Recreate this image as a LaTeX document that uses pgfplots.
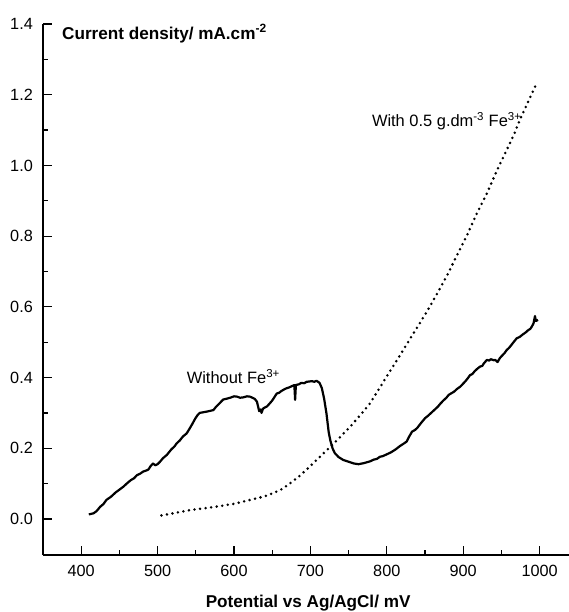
\documentclass[border=0pt]{standalone}
\usepackage{pgfplots}
\pgfplotsset{compat=1.18}
\usepackage{fontspec}
\setmainfont{Liberation Sans}
\begin{document}
\begin{tikzpicture}
\begin{axis}[
  at={(0,0)}, anchor=south west,
  scale only axis, width=526bp, height=531bp,
  xmin=350, xmax=1038.5, ymin=-0.1018, ymax=1.4,
  axis x line*=bottom, axis y line*=left,
  axis line style={line width=1.4bp},
  xtick={400,500,...,1000},
  ytick={0,0.2,...,1.4},
  minor x tick num=1, minor y tick num=1,
  tick align=inside,
  major tick length=9bp, minor tick length=5bp,
  tick style={line width=1.2bp, black},
  /pgf/number format/assume math mode=true,
  yticklabel style={/pgf/number format/fixed, /pgf/number format/fixed zerofill, /pgf/number format/precision=1, inner sep=0pt, xshift=-10bp, font=\fontsize{16.3}{18}\selectfont},
  xticklabel style={/pgf/number format/set thousands separator={}, inner sep=0pt, yshift=-10bp, font=\fontsize{16.3}{18}\selectfont},
  scaled y ticks=false,
  xlabel={\bfseries Potential vs Ag/AgCl/ mV},
  xlabel style={at={(axis description cs:0.504,0)}, anchor=base, yshift=-52bp, inner sep=0pt, font=\fontsize{17.2}{20}\selectfont},
  clip=false,
]
\addplot[black, line width=2.2bp, line join=round] coordinates {
(410,0.013) (416,0.016) (420,0.022) (425,0.035) (429,0.042) (433,0.054) (439,0.063) (445,0.075) (450,0.083) (455,0.091)
(460,0.101) (465,0.110) (469,0.115) (473,0.124) (477,0.128) (481,0.134) (485,0.137) (488,0.140) (491,0.150) (494,0.157) (497,0.152) (500,0.155)
(504,0.164) (507,0.172) (512,0.181) (518,0.197) (522,0.205) (525,0.214) (529,0.222) (533,0.233) (538,0.242)
(542,0.256) (546,0.271) (549,0.283) (552,0.293) (555,0.300) (560,0.302) (565,0.304) (569,0.306) (573,0.308) (576,0.316) (580,0.325)
(586,0.338) (590,0.340) (595,0.343) (600,0.347) (604,0.346) (608,0.343) (612,0.344) (617,0.347) (621,0.346) (627,0.340)
(630,0.332) (633,0.305) (635,0.310) (636,0.300) (638,0.312) (640,0.315) (643,0.318) (646,0.325) (650,0.335) (653,0.345)
(656,0.355) (659,0.357) (662,0.362) (666,0.367) (669,0.370) (672,0.372) (675,0.375) (679,0.379) (680,0.337)
(681,0.379) (685,0.381) (688,0.385) (692,0.384) (695,0.388) (699,0.389) (702,0.390) (705,0.388) (708,0.391) (712,0.385)
(715,0.370) (718,0.340) (721,0.299) (724,0.245) (726,0.223) (729,0.200)
(732,0.186) (737,0.175) (743,0.167) (750,0.162) (757,0.157) (763,0.155)
(770,0.158) (778,0.163) (783,0.168) (787,0.170) (791,0.176) (795,0.178) (800,0.183) (805,0.188) (811,0.196) (817,0.206)
(822,0.213) (826,0.219) (829,0.232) (833,0.247) (837,0.252) (840,0.258) (845,0.272) (850,0.285) (854,0.292) (858,0.300)
(862,0.308) (867,0.318) (870,0.326) (874,0.335) (878,0.343) (881,0.351) (884,0.355) (888,0.360) (892,0.368) (896,0.374) (900,0.383) (903,0.390)
(906,0.398) (909,0.407) (912,0.410) (915,0.418) (918,0.424) (922,0.431) (925,0.433) (927,0.440) (931,0.450) (934,0.448) (936,0.452)
(940,0.449) (942,0.450) (945,0.444) (948,0.455) (950,0.460) (954,0.469) (957,0.478) (960,0.484) (963,0.492) (967,0.503) (970,0.511)
(974,0.515) (978,0.522) (982,0.528) (985,0.534) (988,0.538) (990,0.545) (992,0.553) (994,0.574) (995,0.560)
(998,0.563)
};
\addplot[black, line width=2.8bp, line cap=round, dash pattern=on 0pt off 5.6bp] coordinates {
(505,0.010) (520,0.016) (542,0.025) (560,0.030) (577,0.035) (600,0.043)
(621,0.054) (640,0.064) (651,0.073) (663,0.085) (673,0.100) (686,0.122)
(699,0.148) (712,0.175) (726,0.204) (739,0.232) (752,0.261) (765,0.293)
(778,0.327) (791,0.372) (803,0.414) (817,0.462) (830,0.508) (843,0.553)
(855,0.596) (866,0.638) (878,0.685) (891,0.742) (904,0.798) (917,0.860)
(931,0.921) (944,0.985) (957,1.044) (966,1.085) (974,1.128) (985,1.180)
(996,1.232)
};
\node[anchor=base west, inner sep=0pt, font=\fontsize{17.2}{20}\selectfont\bfseries] at (axis cs:374.9,1.357) {Current density/ mA.cm\textsuperscript{-2}};
\node[anchor=base west, inner sep=0pt, font=\fontsize{16.5}{20}\selectfont] at (axis cs:538,0.382) {Without Fe\textsuperscript{3+}};
\node[anchor=base east, inner sep=0pt, font=\fontsize{16.5}{20}\selectfont] at (axis cs:976.6,1.109) {With 0.5 g.dm\textsuperscript{-3} Fe\textsuperscript{3+}};
\end{axis}
\pgfresetboundingbox
\useasboundingbox (-43bp,-57bp) rectangle (526bp,555bp);
\end{tikzpicture}
\end{document}
